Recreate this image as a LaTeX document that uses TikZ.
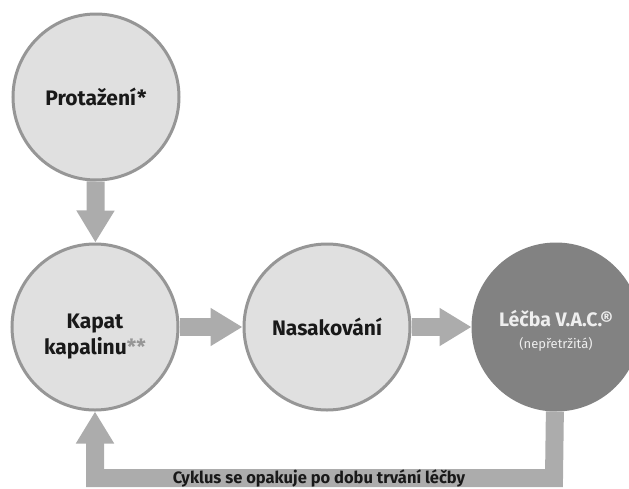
\documentclass[tikz,border=0pt]{standalone}
\usepackage{fontspec}
\setmainfont{Fira Sans}
\usepackage{tikz}
\usetikzlibrary{arrows.meta, positioning}

\definecolor{stagefill}{RGB}{224,224,224}
\definecolor{stageline}{RGB}{150,150,150}
\definecolor{flowgray}{RGB}{172,172,172}
\definecolor{vacfill}{RGB}{130,130,130}
\definecolor{vactext}{RGB}{238,238,238}
\definecolor{stargray}{RGB}{150,150,150}

\newcommand{\lowered}[2]{\raisebox{-#1}[\height][\depth]{#2}}

\tikzset{
  stage/.style={circle, draw=stageline, fill=stagefill, line width=3pt,
    minimum size=166pt, inner sep=0pt, align=center, text=black!90,
    font=\fontsize{21}{27}\selectfont\bfseries},
  stage vac/.style={fill=vacfill, draw=vacfill, text=vactext},
  flow/.style={draw=flowgray, line width=18pt, line join=miter,
    -{Triangle[length=32pt, width=36pt]}},
  cycle label/.style={inner sep=0pt, text=black!90,
    font=\fontsize{16.5}{18}\selectfont\bfseries}
}

\begin{document}
\begin{tikzpicture}[x=1pt, y=-1pt]

    \useasboundingbox (0,0) rectangle (629,488);

    \node [stage] (protazeni) at (96,97) {Protažení*};
    \node [stage] (kapat) at (95,327)
        {\lowered{9pt}{\begin{tabular}{@{}c@{}}Kapat\\[-1pt]kapalinu\textcolor{stargray}{**}\end{tabular}}};
    \node [stage] (nasakovani) at (327,327) {Nasakování};
    \node [stage, stage vac] (vac) at (556,327)
        {\lowered{5pt}{\begin{tabular}{@{}c@{}}{\fontsize{19.5}{21}\selectfont Léčba V.A.C.®}\\[-5pt]
        {\fontsize{13}{14}\selectfont\mdseries (nepřetržitá)}\end{tabular}}};

    \coordinate (loop) at (554,478);

    \draw [flow] (protazeni) -- (kapat);

    \foreach \a/\b in {kapat/nasakovani, nasakovani/vac}
      \draw [flow] (\a) -- (\b);

    \draw [flow] (vac) -- (loop) -| (kapat);

    \node [cycle label] (cycle) at (319,478) {Cyklus se opakuje po dobu trvání léčby};

\end{tikzpicture}
\end{document}
